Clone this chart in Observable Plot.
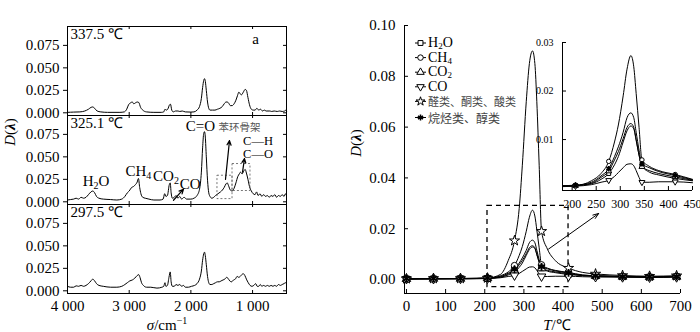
<!DOCTYPE html>
<html><head><meta charset="utf-8">
<script src="https://cdn.jsdelivr.net/npm/d3@7"></script>
<script src="https://cdn.jsdelivr.net/npm/@observablehq/plot@0.6"></script>
<style>
body{margin:0;background:#fff;}
#wrap{position:relative;width:700px;height:332px;overflow:hidden;font-family:"Liberation Serif","Times New Roman",serif;color:#000;}
#wrap svg{position:absolute;background:transparent;overflow:visible;}
.lab{position:absolute;font-size:15px;white-space:nowrap;transform:translate(-50%,-50%);line-height:1;}
.leg{position:absolute;white-space:nowrap;line-height:12px;height:12px;transform:translateY(-50%);}
</style></head><body><div id="wrap"></div>
<script>
// ---------- left: FTIR spectra ----------
const panels = ["337.5 ℃", "325.1 ℃", "297.5 ℃"];
const spec337 = [[4000,0.0005],[3900,0.0008],[3800,0.001],[3720,0.002],[3660,0.004],[3620,0.006],[3590,0.0065],[3560,0.005],[3520,0.002],[3460,0.001],[3350,0.0005],[3150,0.0005],[3080,0.001],[3040,0.004],[3010,0.009],[2980,0.011],[2950,0.012],[2925,0.01],[2900,0.011],[2870,0.012],[2845,0.0115],[2815,0.006],[2780,0.003],[2720,0.001],[2600,0.0005],[2480,0.0005],[2440,0.001],[2420,0.004],[2400,0.003],[2375,0.004],[2345,0.009],[2330,0.0095],[2310,0.003],[2285,0.001],[2250,0.002],[2210,0.002],[2180,0.0015],[2140,0.002],[2090,0.001],[2000,0.0008],[1950,0.001],[1900,0.003],[1860,0.007],[1830,0.016],[1810,0.028],[1792,0.036],[1779,0.038],[1766,0.035],[1750,0.025],[1730,0.012],[1710,0.005],[1690,0.003],[1650,0.003],[1610,0.003],[1570,0.004],[1530,0.005],[1490,0.007],[1460,0.01],[1430,0.012],[1410,0.012],[1390,0.011],[1360,0.008],[1330,0.008],[1300,0.01],[1270,0.014],[1245,0.019],[1222,0.023],[1200,0.021],[1180,0.02],[1150,0.023],[1120,0.026],[1100,0.025],[1075,0.017],[1050,0.009],[1020,0.004],[990,0.003],[960,0.003],[930,0.005],[900,0.003],[870,0.004],[840,0.002],[810,0.003],[780,0.002],[750,0.002],[720,0.002],[690,0.0015],[650,0.002],[600,0.0015],[560,0.002],[520,0.0015],[480,0.002],[460,0.003],[450,0.002]];
const spec325 = [[4000,0.002],[3950,0.0025],[3900,0.003],[3860,0.004],[3820,0.003],[3780,0.005],[3740,0.004],[3700,0.005],[3660,0.008],[3620,0.011],[3590,0.012],[3560,0.01],[3530,0.006],[3490,0.004],[3420,0.003],[3300,0.0025],[3200,0.002],[3120,0.003],[3070,0.006],[3030,0.01],[3000,0.012],[2960,0.016],[2930,0.017],[2900,0.019],[2870,0.022],[2850,0.026],[2830,0.016],[2810,0.009],[2780,0.005],[2740,0.004],[2680,0.003],[2600,0.002],[2500,0.002],[2450,0.003],[2425,0.009],[2405,0.006],[2380,0.007],[2350,0.019],[2335,0.021],[2320,0.01],[2300,0.004],[2270,0.005],[2240,0.007],[2210,0.004],[2180,0.006],[2150,0.003],[2110,0.005],[2070,0.003],[2000,0.003],[1950,0.004],[1900,0.007],[1860,0.014],[1830,0.033],[1810,0.06],[1792,0.076],[1779,0.078],[1766,0.072],[1750,0.05],[1730,0.024],[1710,0.01],[1690,0.006],[1660,0.004],[1630,0.005],[1600,0.007],[1560,0.009],[1520,0.011],[1490,0.013],[1460,0.016],[1430,0.02],[1410,0.021],[1390,0.018],[1360,0.013],[1330,0.012],[1300,0.015],[1270,0.021],[1240,0.028],[1215,0.031],[1195,0.033],[1170,0.031],[1145,0.034],[1120,0.036],[1100,0.032],[1075,0.025],[1050,0.017],[1020,0.012],[990,0.009],[960,0.008],[935,0.011],[910,0.007],[880,0.009],[850,0.006],[820,0.008],[790,0.006],[760,0.007],[730,0.005],[700,0.007],[670,0.006],[640,0.008],[610,0.005],[580,0.007],[550,0.006],[520,0.008],[490,0.006],[465,0.009],[450,0.007]];
const spec297 = [[4000,0.005],[3950,0.004],[3900,0.004],[3860,0.0055],[3820,0.005],[3780,0.006],[3740,0.005],[3700,0.006],[3660,0.008],[3620,0.011],[3590,0.013],[3560,0.011],[3530,0.008],[3490,0.006],[3420,0.005],[3300,0.004],[3200,0.004],[3120,0.005],[3070,0.007],[3030,0.009],[2990,0.011],[2950,0.012],[2910,0.014],[2870,0.017],[2845,0.018],[2825,0.015],[2800,0.009],[2770,0.006],[2720,0.004],[2650,0.004],[2550,0.003],[2470,0.004],[2440,0.005],[2420,0.009],[2405,0.005],[2380,0.006],[2355,0.015],[2335,0.021],[2320,0.01],[2300,0.005],[2270,0.005],[2240,0.007],[2210,0.006],[2180,0.007],[2150,0.005],[2120,0.006],[2090,0.004],[2040,0.004],[1990,0.005],[1940,0.006],[1900,0.008],[1860,0.013],[1830,0.022],[1810,0.034],[1792,0.041],[1779,0.043],[1766,0.039],[1750,0.029],[1730,0.016],[1710,0.009],[1690,0.007],[1660,0.007],[1630,0.008],[1600,0.009],[1570,0.01],[1540,0.01],[1510,0.011],[1480,0.012],[1450,0.013],[1420,0.015],[1400,0.014],[1370,0.011],[1340,0.01],[1310,0.012],[1280,0.013],[1250,0.016],[1225,0.015],[1200,0.016],[1175,0.018],[1150,0.019],[1125,0.017],[1100,0.013],[1070,0.009],[1040,0.006],[1010,0.005],[980,0.006],[950,0.008],[925,0.005],[900,0.005],[875,0.007],[850,0.005],[820,0.006],[790,0.005],[760,0.006],[730,0.005],[700,0.006],[670,0.005],[640,0.006],[610,0.005],[580,0.007],[550,0.006],[520,0.007],[490,0.008],[465,0.009],[450,0.008]];
const specXTicks = [4000, 3000, 2000, 1000];
const specYTicks = [0, 0.025, 0.05, 0.075];
const bandLabels = [
  {text: "H₂O", wn: 3538, v: 0.023},
  {text: "CH₄", wn: 2850, v: 0.034},
  {text: "CO₂", wn: 2403, v: 0.029},
  {text: "CO", wn: 2010, v: 0.020},
  {text: "C=O", wn: 1844, v: 0.084}
];
const bondLabels = [
  {text: "C—H", wn: 912, v: 0.068},
  {text: "C—O", wn: 912, v: 0.0535}
];
const skeletonLabel = [{text: "苯环骨架", wn: 1212, v: 0.083}];
const bandArrows = [
  {wn1: 2282, v1: 0.0017, wn2: 2120, v2: 0.014},
  {wn1: 1439, v1: 0.025, wn2: 1374, v2: 0.068},
  {wn1: 1163, v1: 0.033, wn2: 1131, v2: 0.048}
];
const bandBoxes = [
  {wn1: 1569, wn2: 1325, v1: 0.003, v2: 0.029},
  {wn1: 1325, wn2: 1034, v1: 0.012, v2: 0.042}
];
const panelTag = [{text: "a", wn: 952, v: 0.082}];

// ---------- right: evolution curves ----------
const seriesNames = ["H₂O", "CH₄", "CO₂", "CO", "醛类、酮类、酸类", "烷烃类、醇类"];
const tempsCurve = [0, 69, 138, 180, 207, 240, 260, 276, 288, 296, 306, 314, 322, 328, 333, 339, 345, 360, 380, 414, 450, 483, 552, 621, 690];
const tempsMarked = [0, 69, 138, 207, 276, 345, 414, 483, 552, 621, 690];
const valH2O = [0.0003, 0.0003, 0.0004, 0.0004, 0.0005, 0.0009, 0.0018, 0.003, 0.0048, 0.0065, 0.0095, 0.0118, 0.0128, 0.0122, 0.0098, 0.0068, 0.0046, 0.0033, 0.0027, 0.002, 0.0015, 0.0013, 0.0011, 0.001, 0.0012];
const valCH4 = [0.0002, 0.0003, 0.0003, 0.0004, 0.0005, 0.0015, 0.003, 0.0055, 0.0095, 0.013, 0.019, 0.0245, 0.0273, 0.025, 0.0195, 0.0125, 0.0058, 0.0045, 0.0036, 0.0028, 0.0018, 0.0015, 0.0012, 0.001, 0.0012];
const valCO2 = [0.0002, 0.0003, 0.0003, 0.0004, 0.0005, 0.001, 0.0022, 0.0035, 0.0058, 0.0075, 0.0102, 0.0125, 0.0133, 0.0125, 0.01, 0.0068, 0.0044, 0.0036, 0.003, 0.0023, 0.0016, 0.0014, 0.0011, 0.001, 0.0011];
const valCO = [0.0002, 0.0002, 0.0003, 0.0003, 0.0004, 0.0007, 0.0012, 0.0016, 0.0024, 0.0032, 0.0042, 0.0049, 0.005, 0.0046, 0.0036, 0.0022, 0.0012, 0.0012, 0.0013, 0.0013, 0.0011, 0.001, 0.0009, 0.0008, 0.0009];
const valAldehyde = [0.0003, 0.0004, 0.0004, 0.0005, 0.0006, 0.002, 0.0075, 0.0153, 0.028, 0.045, 0.070, 0.085, 0.090, 0.085, 0.070, 0.045, 0.019, 0.012, 0.0075, 0.0045, 0.0028, 0.0022, 0.0016, 0.0013, 0.0015];
const valAlkane = [0.0003, 0.0004, 0.0004, 0.0005, 0.0006, 0.0012, 0.0025, 0.004, 0.0065, 0.0085, 0.0115, 0.0145, 0.0155, 0.0145, 0.0115, 0.0078, 0.005, 0.0042, 0.0034, 0.0026, 0.0017, 0.0015, 0.0012, 0.0011, 0.0012];
const insetSeries = ["H₂O", "CH₄", "CO₂", "CO", "烷烃类、醇类"];
const mainXTicks = [0, 100, 200, 300, 400, 500, 600, 700];
const mainYTicks = [0, 0.02, 0.04, 0.06, 0.08, 0.10];
const insetXTicks = [200, 250, 300, 350, 400, 450];
const insetYTicks = [0.01, 0.02, 0.03];
const zoomBox = [{t1: 207, t2: 414, v1: -0.003, v2: 0.029}];
const zoomArrow = [{t1: 363, v1: 0.012, t2: 491, v2: 0.026}];

// ---------- build ----------
const wrap = document.getElementById("wrap");
const serif = "Liberation Serif, Times New Roman, serif";
const cjk = "Noto Sans CJK SC, sans-serif";

function subscriptify(svg) {
  d3.select(svg).selectAll("text").each(function () {
    const t = this.textContent;
    if (!/[₀-₉]/.test(t)) return;
    const sel = d3.select(this);
    sel.text(null);
    let shifted = false;
    for (const ch of t) {
      const m = "₀₁₂₃₄₅₆₇₈₉".indexOf(ch);
      if (m >= 0) {
        sel.append("tspan").attr("dy", shifted ? null : 3).attr("font-size", 10).text(String(m));
        shifted = true;
      } else {
        sel.append("tspan").attr("dy", shifted ? -3 : null).text(ch);
        shifted = false;
      }
    }
  });
}

const specRows = [];
[spec337, spec325, spec297].forEach((s, i) => s.forEach(([wn, v]) => specRows.push({panel: panels[i], wn, v})));
const mid = panels[1];

const left = Plot.plot({
  width: 290, height: 332, marginLeft: 67, marginRight: 4, marginTop: 25, marginBottom: 39,
  style: {fontFamily: serif, fontSize: "15px", background: "transparent", overflow: "visible"},
  x: {domain: [4000, 450]},
  y: {domain: [-0.003, 0.096]},
  fy: {domain: panels, padding: 0, axis: null},
  marks: [
    Plot.frame({stroke: "black", strokeWidth: 1}),
    Plot.ruleX(specXTicks, {x: d => d, insetTop: 86, stroke: "black"}),
    Plot.ruleX(specXTicks, {x: d => d, insetBottom: 86, stroke: "black"}),
    Plot.ruleY(specYTicks, {y: d => d, insetLeft: 216, stroke: "black"}),
    Plot.axisY({ticks: specYTicks, tickFormat: d3.format(".3f"), tickSize: 4, tickPadding: 4, label: null}),
    Plot.axisX({ticks: specXTicks, tickFormat: d => d3.format(",")(d).replace(",", " "), tickSize: 0, tickPadding: 7, label: null}),
    Plot.line(specRows, {x: "wn", y: "v", fy: "panel", stroke: "black", strokeWidth: 1, curve: "monotone-x"}),
    Plot.rect(bandBoxes, {x1: "wn1", x2: "wn2", y1: "v1", y2: "v2", fy: () => mid, fill: "none", stroke: "#555", strokeWidth: 0.8, strokeDasharray: "2,2"}),
    Plot.arrow(bandArrows, {x1: "wn1", y1: "v1", x2: "wn2", y2: "v2", fy: () => mid, stroke: "black", strokeWidth: 1.2, headLength: 6, headAngle: 50}),
    Plot.text(bandLabels, {x: "wn", y: "v", text: "text", fy: () => mid, fontSize: 15, fill: "black"}),
    Plot.text(bondLabels, {x: "wn", y: "v", text: "text", fy: () => mid, fontSize: 12.5, fill: "black"}),
    Plot.text(skeletonLabel, {x: "wn", y: "v", text: "text", fy: () => mid, fontFamily: cjk, fontSize: 10.5, fill: "#555"}),
    Plot.text(panelTag, {x: "wn", y: "v", text: "text", fy: () => panels[0], fontSize: 15}),
    Plot.text(panels, {fy: d => d, text: d => d, frameAnchor: "top-left", dx: 3, dy: 2, lineAnchor: "top", textAnchor: "start", fontSize: 15})
  ]
});
left.style.left = "0px"; left.style.top = "0px";
subscriptify(left);
wrap.appendChild(left);

const valsBySeries = [valH2O, valCH4, valCO2, valCO, valAldehyde, valAlkane];
const curveRows = [];
seriesNames.forEach((name, i) => valsBySeries[i].forEach((v, j) => curveRows.push({series: name, T: tempsCurve[j], v})));
const markRows = curveRows.filter(d => tempsMarked.includes(d.T));

const triangleDown = {
  draw(context, size) {
    const y = -Math.sqrt(size / (Math.sqrt(3) * 3));
    context.moveTo(0, -y * 2);
    context.lineTo(-Math.sqrt(3) * y, y);
    context.lineTo(Math.sqrt(3) * y, y);
    context.closePath();
  }
};
const seriesSymbols = [d3.symbolSquare, d3.symbolCircle, d3.symbolTriangle, triangleDown, d3.symbolStar, d3.symbolAsterisk];

function dotMarks(rows, r, names) {
  return seriesNames.map((n, i) => names.includes(n) ? Plot.dot(rows.filter(d => d.series === n), {
    x: "T", y: "v", symbol: seriesSymbols[i], r: i === 5 ? r * 1.15 : r,
    fill: i === 5 ? "black" : "white", stroke: "black", strokeWidth: i === 5 ? 1.8 : 1
  }) : null).filter(Boolean);
}

const main = Plot.plot({
  width: 350, height: 332, marginLeft: 54, marginRight: 20, marginTop: 25, marginBottom: 39,
  style: {fontFamily: serif, fontSize: "15px", background: "transparent", overflow: "visible"},
  x: {domain: [-5, 700]},
  y: {domain: [-0.0055, 0.1]},
  marks: [
    Plot.ruleX([-5], {stroke: "black"}),
    Plot.ruleY([-0.0055], {stroke: "black"}),
    Plot.ruleY(mainYTicks, {y: d => d, insetRight: 272, stroke: "black"}),
    Plot.ruleX(mainXTicks, {x: d => d, insetTop: 264, stroke: "black"}),
    Plot.axisY({ticks: mainYTicks, tickFormat: d3.format(".2f"), tickSize: 0, tickPadding: 9, label: null}),
    Plot.axisX({ticks: mainXTicks, tickFormat: d3.format("d"), tickSize: 0, tickPadding: 7, label: null}),
    Plot.rect(zoomBox, {x1: "t1", x2: "t2", y1: "v1", y2: "v2", fill: "none", stroke: "black", strokeWidth: 1.3, strokeDasharray: "5,4"}),
    Plot.arrow(zoomArrow, {x1: "t1", y1: "v1", x2: "t2", y2: "v2", stroke: "black", strokeWidth: 1, headLength: 9, headAngle: 40}),
    Plot.line(curveRows, {x: "T", y: "v", z: "series", curve: "monotone-x", stroke: "black", strokeWidth: 1}),
    ...dotMarks(markRows, 3.2, seriesNames)
  ]
});
main.style.left = "350px"; main.style.top = "0px";
wrap.appendChild(main);

const insetRows = curveRows.filter(d => d.T >= 180 && d.T <= 450 && insetSeries.includes(d.series));
const insetMarks = markRows.filter(d => d.T >= 180 && d.T <= 450);
const inset = Plot.plot({
  width: 175, height: 182, marginLeft: 37, marginRight: 8, marginTop: 12, marginBottom: 22,
  style: {fontFamily: serif, fontSize: "12px", background: "transparent", overflow: "visible"},
  x: {domain: [180, 450]},
  y: {domain: [-0.0005, 0.03]},
  marks: [
    Plot.ruleX([180], {stroke: "black"}),
    Plot.ruleY([-0.0005], {stroke: "black"}),
    Plot.ruleY(insetYTicks, {y: d => d, insetRight: 126, stroke: "black"}),
    Plot.ruleX(insetXTicks, {x: d => d, insetTop: 144, stroke: "black"}),
    Plot.axisY({ticks: insetYTicks, tickFormat: d3.format(".2f"), tickSize: 0, tickPadding: 9, label: null, fontSize: 10}),
    Plot.axisX({ticks: insetXTicks, tickFormat: d3.format("d"), tickSize: 0, tickPadding: 9, label: null}),
    Plot.line(insetRows, {x: "T", y: "v", z: "series", curve: "monotone-x", stroke: "black", strokeWidth: 1}),
    ...dotMarks(insetMarks, 2.2, insetSeries)
  ]
});
inset.style.left = "525px"; inset.style.top = "30px";
wrap.appendChild(inset);

// legend
const legRowY = [43, 57.6, 72.2, 86.8, 101.4, 117.5];
const legSvg = d3.select(wrap).append("svg").attr("width", 20).attr("height", 100)
  .style("left", "410px").style("top", "30px");
seriesNames.forEach((n, i) => {
  const cy = legRowY[i] - 30;
  legSvg.append("line").attr("x1", 5).attr("x2", 16).attr("y1", cy).attr("y2", cy).attr("stroke", "black");
  legSvg.append("path").attr("transform", `translate(10.5,${cy})`)
    .attr("d", d3.symbol(seriesSymbols[i], 24)())
    .attr("fill", i === 5 ? "black" : "white").attr("stroke", "black").attr("stroke-width", i === 5 ? 1.5 : 1);
  const div = document.createElement("div");
  div.className = "leg";
  div.style.left = "428px";
  div.style.top = legRowY[i] + "px";
  const isCJK = /[\u4e00-\u9fff]/.test(n);
  if (isCJK) {
    div.style.fontFamily = cjk;
    div.style.fontSize = i === 4 ? "11px" : "12px";
    div.style.color = "#444";
  } else {
    div.style.fontSize = "14px";
  }
  div.innerHTML = n.replace(/[₀-₉]/g, c => `<sub style="font-size:9px;vertical-align:-2px;line-height:0">${"₀₁₂₃₄₅₆₇₈₉".indexOf(c)}</sub>`);
  wrap.appendChild(div);
});

// axis titles
function lab(html, x, y, rot) {
  const d = document.createElement("div");
  d.className = "lab";
  d.style.left = x + "px"; d.style.top = y + "px";
  if (rot) d.style.transform = "translate(-50%,-50%) rotate(-90deg)";
  d.innerHTML = html;
  wrap.appendChild(d);
}
lab('<i>D</i>(<b><i>λ</i></b>)', 10, 132, true);
lab('<i>D</i>(<b><i>λ</i></b>)', 356, 143, true);
lab('<i>σ</i>/cm<sup style="font-size:10px;line-height:0">−1</sup>', 167, 325, false);
lab('<i>T</i>/℃', 557, 325, false);
</script></body></html>
